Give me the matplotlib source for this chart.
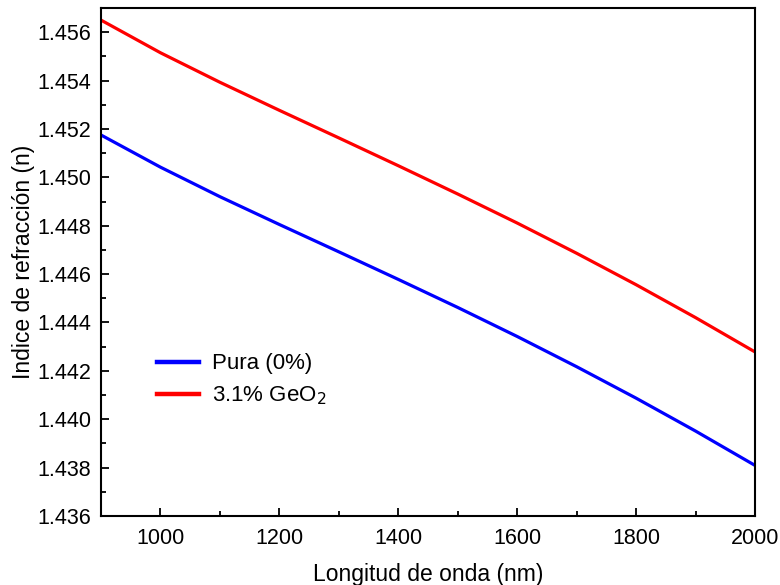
import matplotlib
matplotlib.use("Agg")
import matplotlib.pyplot as plt
from matplotlib.ticker import MultipleLocator, FormatStrFormatter

plt.rcParams['font.family'] = ['Liberation Sans', 'DejaVu Sans']

# Wavelength (nm)
wavelength = [900, 1000, 1100, 1200, 1300, 1400, 1500, 1600, 1700, 1800, 1900, 2000]
# Refractive index of pure silica
n_pura = [1.45175, 1.45042, 1.44920, 1.44805, 1.44692, 1.44578, 1.44462,
          1.44342, 1.44217, 1.44087, 1.43951, 1.43809]
# Refractive index of silica doped with 3.1% GeO2
n_geo2 = [1.45650, 1.45515, 1.45393, 1.45277, 1.45163, 1.45048, 1.44931,
          1.44811, 1.44686, 1.44556, 1.44420, 1.44278]

labels = ['Pura (0%)', r'3.1% GeO$_2$']

fig = plt.figure(figsize=(7.8, 5.85), dpi=100)
ax = fig.add_axes([0.1295, 0.118, 0.8385, 0.8683])

ax.plot(wavelength, n_pura, color='#0000ff', lw=2.3, label=labels[0])
ax.plot(wavelength, n_geo2, color='#ff0000', lw=2.3, label=labels[1])

ax.set_xlim(900, 2000)
ax.set_ylim(1.436, 1.457)
ax.xaxis.set_major_locator(MultipleLocator(200))
ax.xaxis.set_minor_locator(MultipleLocator(100))
ax.yaxis.set_major_locator(MultipleLocator(0.002))
ax.yaxis.set_minor_locator(MultipleLocator(0.001))
ax.yaxis.set_major_formatter(FormatStrFormatter('%.3f'))

ax.tick_params(which='both', direction='in', top=False, right=False,
               width=1.3, labelsize=15.5)
ax.tick_params(which='major', length=6)
ax.tick_params(axis='x', which='major', pad=9)
ax.tick_params(axis='y', which='major', pad=7)
ax.tick_params(which='minor', length=3.5)
for s in ax.spines.values():
    s.set_linewidth(1.5)

ax.set_xlabel('Longitud de onda (nm)', fontsize=16.5, labelpad=10)
ax.set_ylabel('Indice de refracción (n)', fontsize=16.5, labelpad=2)

leg = ax.legend(loc='upper left', bbox_to_anchor=(0.085, 0.32), frameon=False,
                fontsize=16, handlelength=1.9, handletextpad=0.6,
                labelspacing=0.45, borderpad=0, borderaxespad=0)
for h in leg.legend_handles:
    h.set_linewidth(3.2)

fig.savefig('out.png', dpi=100)
